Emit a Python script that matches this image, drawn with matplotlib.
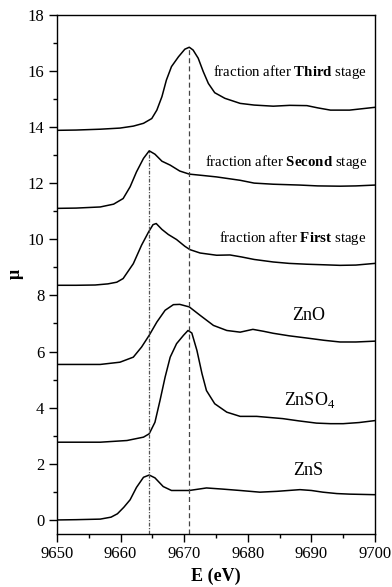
import numpy as np
import matplotlib
matplotlib.use("Agg")
import matplotlib.pyplot as plt
from matplotlib.ticker import MultipleLocator

plt.rcParams['font.family'] = ['Liberation Serif', 'DejaVu Serif']
plt.rcParams['mathtext.fontset'] = 'custom'
plt.rcParams['mathtext.rm'] = 'Liberation Serif'
plt.rcParams['mathtext.bf'] = 'Liberation Serif:bold'

# spectra (E in eV, mu stacked)
e_third = [9650, 9653, 9656.8, 9659.9, 9662, 9663.6, 9664.9, 9665.7, 9666.5, 9667.2, 9668.0,
           9669.1, 9670.1, 9670.8, 9671.4, 9672.2, 9673.0, 9673.8, 9674.8, 9676.4, 9678.8,
           9681, 9684, 9686.6, 9689.3, 9691, 9693, 9696, 9698, 9700]
mu_third = [13.88, 13.89, 13.92, 13.96, 14.03, 14.13, 14.30, 14.60, 15.08, 15.67, 16.15,
            16.50, 16.77, 16.84, 16.74, 16.45, 15.97, 15.55, 15.22, 15.02, 14.84,
            14.78, 14.74, 14.77, 14.76, 14.68, 14.6, 14.6, 14.65, 14.7]

e_second = [9650, 9653, 9656.8, 9658.9, 9660.4, 9661.5, 9662.5, 9663.6, 9664.5, 9665.4, 9666.5,
            9667.8, 9669.3, 9670.8, 9673.0, 9675.1, 9678.8, 9681, 9684, 9688.2, 9691, 9694.5, 9697, 9700]
mu_second = [11.1, 11.11, 11.15, 11.25, 11.45, 11.87, 12.40, 12.88, 13.15, 13.03, 12.78,
             12.64, 12.43, 12.32, 12.27, 12.22, 12.1, 12.0, 11.96, 11.93, 11.9, 11.89, 11.9, 11.93]

e_first = [9650, 9653, 9656, 9658, 9659.4, 9660.4, 9662.0, 9663.3, 9664.4, 9665.1, 9665.6,
           9666.5, 9667.5, 9668.8, 9670.1, 9670.9, 9672.5, 9675.1, 9677.2, 9679, 9681,
           9684, 9686.5, 9689.3, 9692, 9694.5, 9697, 9700]
mu_first = [8.36, 8.36, 8.37, 8.41, 8.47, 8.60, 9.13, 9.79, 10.26, 10.52, 10.56,
            10.35, 10.17, 9.99, 9.75, 9.63, 9.51, 9.43, 9.44, 9.37, 9.28,
            9.19, 9.14, 9.11, 9.09, 9.07, 9.08, 9.14]

e_zno = [9650, 9653, 9656.8, 9659.9, 9662.0, 9663.3, 9664.5, 9665.7, 9667.0, 9668.3, 9669.3,
         9670.8, 9672.5, 9674.6, 9676.7, 9678.8, 9680.8, 9682.5, 9684, 9686.5, 9689.3,
         9692, 9694.5, 9697, 9700]
mu_zno = [5.54, 5.54, 5.54, 5.62, 5.80, 6.16, 6.58, 7.05, 7.47, 7.67, 7.68,
          7.59, 7.29, 6.93, 6.75, 6.69, 6.79, 6.72, 6.65, 6.56, 6.48,
          6.40, 6.34, 6.34, 6.37]

e_znso4 = [9650, 9653, 9656.8, 9661.0, 9663.6, 9664.5, 9665.4, 9666.2, 9667.0, 9667.8, 9668.8,
           9669.9, 9670.6, 9671.2, 9672.0, 9672.8, 9673.5, 9674.8, 9676.7, 9678.8, 9681.4,
           9685.5, 9688, 9690.8, 9693, 9695, 9697.5, 9700]
mu_znso4 = [2.77, 2.77, 2.77, 2.83, 2.95, 3.07, 3.48, 4.26, 5.09, 5.80, 6.28,
            6.58, 6.75, 6.66, 6.04, 5.21, 4.61, 4.14, 3.84, 3.69, 3.69,
            3.61, 3.53, 3.45, 3.43, 3.43, 3.47, 3.54]

e_zns = [9650, 9653, 9656.8, 9658.5, 9659.5, 9660.5, 9661.5, 9662.5, 9663.6, 9664.5, 9665.4,
         9666.7, 9668.0, 9670.8, 9673.5, 9676, 9678.8, 9681.9, 9684.6, 9688.2, 9690,
         9691.8, 9694, 9696, 9700]
mu_zns = [0.0, 0.01, 0.03, 0.1, 0.22, 0.45, 0.72, 1.16, 1.52, 1.60, 1.50,
          1.19, 1.05, 1.05, 1.14, 1.1, 1.05, 0.99, 1.02, 1.08, 1.05,
          0.99, 0.94, 0.92, 0.9]

curves = [(e_third, mu_third), (e_second, mu_second), (e_first, mu_first),
          (e_zno, mu_zno), (e_znso4, mu_znso4), (e_zns, mu_zns)]

# reference lines
e_dash = 9670.8
e_dashdot = 9664.5

fig = plt.figure(figsize=(3.92, 5.87), dpi=100)
ax = fig.add_axes([0.1454, 0.0903, 0.8112, 0.8847])

for e, mu in curves:
    ax.plot(e, mu, color='black', lw=1.1, solid_joinstyle='round')

ax.plot([e_dash, e_dash], [-0.5, max(mu_third)], color='#444444', lw=0.9, ls=(0, (4, 2.5)))
ax.plot([e_dashdot, e_dashdot], [-0.5, max(mu_second)], color='#555555', lw=0.9, ls=(0, (3, 1.2, 1, 1.2)))

ax.text(9698.7, 15.96, r"fraction after $\mathbf{Third}$ stage", ha='right', va='center', fontsize=10.7)
ax.text(9698.7, 12.75, r"fraction after $\mathbf{Second}$ stage", ha='right', va='center', fontsize=10.7)
ax.text(9698.7, 10.04, r"fraction after $\mathbf{First}$ stage", ha='right', va='center', fontsize=10.7)
ax.text(9689.5, 7.29, "ZnO", ha='center', va='center', fontsize=13)
ax.text(9689.8, 4.26, r"ZnSO$_4$", ha='center', va='center', fontsize=13)
ax.text(9689.5, 1.76, "ZnS", ha='center', va='center', fontsize=13)

ax.set_xlim(9650, 9700)
ax.set_ylim(-0.5, 18)
ax.xaxis.set_major_locator(MultipleLocator(10))
ax.xaxis.set_minor_locator(MultipleLocator(5))
ax.yaxis.set_major_locator(MultipleLocator(2))
ax.yaxis.set_minor_locator(MultipleLocator(1))
ax.tick_params(which='major', direction='out', length=5.5, width=1, labelsize=12)
ax.tick_params(which='minor', direction='out', length=3, width=1)
for s in ax.spines.values():
    s.set_linewidth(1)

ax.set_xlabel("E (eV)", fontsize=13, fontweight='bold', labelpad=4)
ax.set_ylabel("μ", fontsize=13, fontweight='bold', labelpad=3)

plt.savefig("out.png", dpi=100)
